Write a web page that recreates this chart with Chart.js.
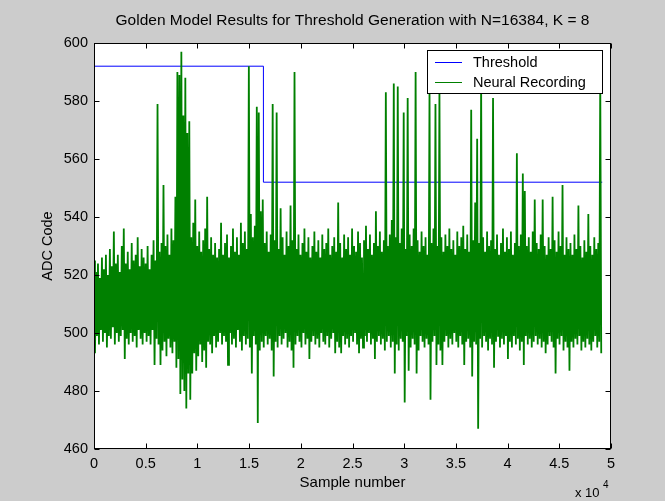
<!DOCTYPE html>
<html><head><meta charset="utf-8">
<script src="https://cdn.jsdelivr.net/npm/chart.js@4.4.0/dist/chart.umd.min.js"></script>
<style>html,body{margin:0;padding:0;background:#cccccc;}canvas{display:block;}</style>
</head><body>
<canvas id="c" width="665" height="501"></canvas>
<script>
const chartTitle = 'Golden Model Results for Threshold Generation with N=16384, K = 8';
const xAxisTitle = 'Sample number';
const yAxisTitle = 'ADC Code';
const seriesNames = ['Threshold', 'Neural Recording'];
const xTickValues = [0, 5000, 10000, 15000, 20000, 25000, 30000, 35000, 40000, 45000, 50000];
const xTickLabels = ['0', '0.5', '1', '1.5', '2', '2.5', '3', '3.5', '4', '4.5', '5'];
const yTickValues = [460, 480, 500, 520, 540, 560, 580, 600];
const yTickLabels = ['460', '480', '500', '520', '540', '560', '580', '600'];

// Threshold: step values (sample index where each level starts)
const thresholdX = [0, 16384, 49152];
const thresholdY = [592, 552, 552];

// Neural recording, read as per-column envelope (each column = 192 samples): max and min
const recColStep = 192;
const recHi = [
525,521,524,519,526,522,527,520,529,523,535,524,527,521,530,536,
524,528,522,531,525,527,533,523,529,526,524,530,522,527,532,525,
579,528,531,551,530,534,527,536,532,547,590,589,597,575,588,569,
573,533,538,546,530,535,528,532,536,547,529,533,527,531,526,529,
538,527,531,534,526,530,536,528,533,527,538,531,535,529,592,541,
533,537,578,576,542,546,531,535,528,534,579,532,576,529,543,533,
527,535,530,544,532,590,529,534,527,531,536,528,533,526,530,535,
528,532,526,534,529,531,536,527,530,533,528,545,531,526,534,529,
533,527,536,530,528,535,531,526,532,537,529,534,527,531,542,530,
535,528,532,583,530,534,539,586,533,585,531,536,576,529,581,534,
530,536,590,532,528,535,530,533,527,584,531,536,579,530,584,533,
528,534,530,536,529,532,527,535,530,533,537,529,534,528,577,532,
545,567,531,586,533,528,535,530,532,581,529,534,527,531,536,528,
533,529,535,527,531,562,530,534,555,549,530,533,528,535,546,531,
529,534,546,530,527,533,529,547,532,528,535,530,551,527,533,529,
531,527,534,529,544,530,526,532,528,541,530,527,533,529,531,588
];
const recLo = [
493,499,496,501,497,500,495,499,498,502,496,500,497,499,501,491,
498,496,500,497,499,495,501,498,496,500,497,499,496,501,489,498,
496,489,494,497,492,498,495,493,497,488,491,479,484,480,474,486,
477,486,493,487,492,496,490,494,488,497,496,493,499,495,497,500,
496,499,497,489,500,496,498,495,501,497,494,499,496,498,495,486,
499,496,469,494,497,495,499,496,498,494,485,497,495,499,496,498,
500,495,497,494,488,496,499,497,495,500,496,498,491,497,499,496,
498,495,500,497,496,499,495,498,500,493,497,495,493,499,496,498,
495,499,497,500,496,493,498,495,499,497,500,496,498,491,497,499,
496,498,494,497,499,495,497,486,496,494,498,497,476,499,487,495,
498,496,486,494,499,497,495,498,496,477,497,499,489,496,494,489,
497,499,495,498,496,500,497,495,499,496,489,497,498,495,485,497,
496,467,498,495,499,497,494,498,496,488,497,499,495,498,496,499,
491,497,495,499,496,498,494,497,489,499,496,498,495,497,499,496,
498,495,497,493,496,499,497,495,486,498,496,499,494,497,495,487,
497,495,498,496,499,494,497,495,498,496,494,497,499,495,497,493
];

const FONT = 'Liberation Sans, Arial, Helvetica, sans-serif';
const thrColor = '#0000ff';
const recColor = '#008000';

const thrData = thresholdX.map((x, i) => ({x: x, y: thresholdY[i]}));
const recData = [];
for (let i = 0; i < recHi.length; i++) {
  recData.push({x: i * recColStep, y: recHi[i]});
  recData.push({x: i * recColStep + recColStep / 2, y: recLo[i]});
}

const decor = {
  id: 'decor',
  beforeDraw(chart) {
    const {ctx, chartArea: a} = chart;
    ctx.save();
    ctx.fillStyle = '#cccccc';
    ctx.fillRect(0, 0, chart.width, chart.height);
    ctx.fillStyle = '#ffffff';
    ctx.fillRect(a.left, a.top, a.right - a.left, a.bottom - a.top);
    ctx.restore();
  },
  afterDatasetsDraw(chart) {
    const {ctx, chartArea: a, scales} = chart;
    ctx.save();
    ctx.strokeStyle = '#000000';
    ctx.lineWidth = 1;
    const L = Math.round(a.left) + 0.5, R = Math.round(a.right) - 0.5;
    const T = Math.round(a.top) + 0.5, B = Math.round(a.bottom) - 0.5;
    const tl = 5;
    ctx.beginPath();
    xTickValues.forEach(v => {
      const px = Math.round(scales.x.getPixelForValue(v)) + 0.5;
      ctx.moveTo(px, B); ctx.lineTo(px, B - tl);
      ctx.moveTo(px, T); ctx.lineTo(px, T + tl);
    });
    yTickValues.forEach(v => {
      const py = Math.round(scales.y.getPixelForValue(v)) + 0.5;
      ctx.moveTo(L, py); ctx.lineTo(L + tl, py);
      ctx.moveTo(R, py); ctx.lineTo(R - tl, py);
    });
    ctx.stroke();
    ctx.strokeRect(L, T, R - L, B - T);

    // legend box
    const bw = 175, bh = 43;
    const bx = Math.round(a.right) - 9 - bw, by = Math.round(a.top) + 7;
    ctx.fillStyle = '#ffffff';
    ctx.fillRect(bx, by, bw, bh);
    ctx.strokeRect(bx + 0.5, by + 0.5, bw, bh);
    const rows = [[seriesNames[0], thrColor, by + 12], [seriesNames[1], recColor, by + 32]];
    ctx.font = '14.5px ' + FONT;
    ctx.textBaseline = 'middle';
    ctx.textAlign = 'left';
    rows.forEach(([t, c, y]) => {
      ctx.strokeStyle = c;
      ctx.beginPath();
      ctx.moveTo(bx + 8, y + 0.5); ctx.lineTo(bx + 35, y + 0.5);
      ctx.stroke();
      ctx.fillStyle = '#000000';
      ctx.fillText(t, bx + 46, y + 1);
    });
    ctx.restore();
  },
  afterDraw(chart) {
    const {ctx, chartArea: a} = chart;
    const cx = (a.left + a.right) / 2, cy = (a.top + a.bottom) / 2;
    ctx.save();
    ctx.fillStyle = '#000000';
    ctx.textAlign = 'center';
    ctx.textBaseline = 'middle';
    ctx.font = '15.5px ' + FONT;
    ctx.fillText(chartTitle, cx, 21);
    ctx.textBaseline = 'alphabetic';
    ctx.font = '15px ' + FONT;
    ctx.fillText(xAxisTitle, cx, 487);
    ctx.save();
    ctx.translate(52, cy);
    ctx.rotate(-Math.PI / 2);
    ctx.font = '14.5px ' + FONT;
    ctx.fillText(yAxisTitle, 0, 0);
    ctx.restore();
    ctx.textAlign = 'left';
    ctx.font = '13px ' + FONT;
    ctx.fillText('x 10', 575, 497);
    ctx.font = '10px ' + FONT;
    ctx.fillText('4', 603, 488);
    ctx.restore();
  }
};

new Chart(document.getElementById('c'), {
  type: 'line',
  data: {
    datasets: [
      {label: seriesNames[0], data: thrData, borderColor: thrColor, borderWidth: 1, pointRadius: 0, stepped: 'before', order: 1, fill: false},
      {label: seriesNames[1], data: recData, borderColor: recColor, borderWidth: 1.8, pointRadius: 0, tension: 0, order: 0, fill: false}
    ]
  },
  options: {
    responsive: false,
    animation: false,
    devicePixelRatio: 1,
    layout: {padding: {left: 0, right: 54, top: 43, bottom: 0}},
    plugins: {legend: {display: false}, tooltip: {enabled: false}, title: {display: false}},
    scales: {
      x: {
        type: 'linear', min: 0, max: 50000,
        afterBuildTicks: s => { s.ticks = xTickValues.map(v => ({value: v})); },
        afterFit: s => { s.height = 52; },
        ticks: {padding: 6, color: '#000', font: {family: FONT, size: 14.5}, maxRotation: 0,
          callback: (v) => xTickLabels[xTickValues.indexOf(v)]},
        grid: {display: false, drawTicks: false},
        border: {display: false}
      },
      y: {
        type: 'linear', min: 460, max: 600,
        afterBuildTicks: s => { s.ticks = yTickValues.map(v => ({value: v})); },
        afterFit: s => { s.width = 94; },
        ticks: {padding: 6, color: '#000', font: {family: FONT, size: 14.5},
          callback: (v) => yTickLabels[yTickValues.indexOf(v)]},
        grid: {display: false, drawTicks: false},
        border: {display: false}
      }
    }
  },
  plugins: [decor]
});
</script>
</body></html>
